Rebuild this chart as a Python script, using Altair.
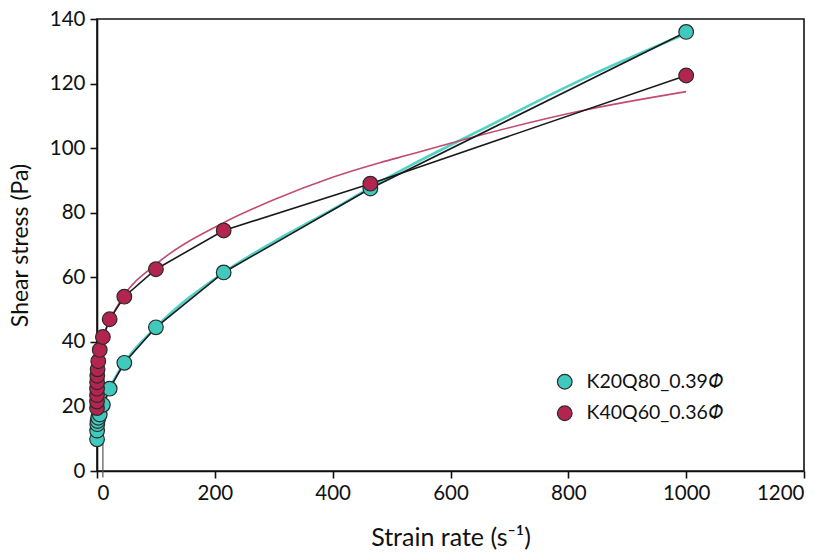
import altair as alt
import pandas as pd

# ---- data ----
series_names = ["K20Q80_0.39𝛷", "K40Q60_0.36𝛷"]

teal_rate = [0.1, 0.215, 0.464, 1, 2.15, 4.64, 10, 21.5, 46.4, 100, 215, 464, 1000]
teal_stress = [9.8, 12.5, 14.5, 15.5, 16.5, 17.5, 20.5, 25.5, 33.5, 44.5, 61.5, 87.5, 136]

crimson_rate = [0.01, 0.0215, 0.0464, 0.1, 0.215, 0.464, 1, 2.15, 4.64, 10, 21.5, 46.4, 100, 215, 464, 1000]
crimson_stress = [19.5, 21.5, 23.5, 25.5, 27.5, 29.5, 31.5, 34, 37.5, 41.5, 47, 54, 62.5, 74.5, 89, 122.5]

teal_fit_rate = [0, 5, 10, 21.5, 46.4, 100, 215, 300, 400, 480, 531, 650, 820, 1000]
teal_fit_stress = [13, 17.5, 20, 25.5, 33.5, 44.5, 61.5, 71, 81, 89.5, 94.5, 105.5, 121, 135.5]

crimson_fit_rate = [5, 10, 21.5, 46.4, 100, 215, 300, 400, 480, 531, 650, 820, 1000]
crimson_fit_stress = [37, 41, 46.5, 54.5, 64, 76.9, 84, 91, 95.5, 98, 104, 111.5, 117.5]

marker_rule_rate = [10]
marker_rule_top = [41]
marker_rule_bottom = [-2]

x_ticks = [0, 200, 400, 600, 800, 1000, 1200]
y_ticks = [0, 20, 40, 60, 80, 100, 120, 140]

# ---- tables ----
pts = pd.concat([
    pd.DataFrame({"rate": teal_rate, "stress": teal_stress, "series": series_names[0], "k": 0}),
    pd.DataFrame({"rate": crimson_rate, "stress": crimson_stress, "series": series_names[1], "k": 1}),
], ignore_index=True)
teal_fit = pd.DataFrame({"rate": teal_fit_rate, "stress": teal_fit_stress})
crimson_fit = pd.DataFrame({"rate": crimson_fit_rate, "stress": crimson_fit_stress})
vrule = pd.DataFrame({"rate": marker_rule_rate, "top": marker_rule_top, "bottom": marker_rule_bottom})

FONT = "Lato"
x_enc = alt.X("rate:Q", scale=alt.Scale(domain=[0, 1200], nice=False, zero=False),
              axis=alt.Axis(values=x_ticks, format="d", title="Strain rate (s⁻¹)",
                            titleFontSize=25, titleBaseline="alphabetic", titleY=74))
y_enc = alt.Y("stress:Q", scale=alt.Scale(domain=[0, 140], nice=False),
              axis=alt.Axis(values=y_ticks, format="d", title="Shear stress (Pa)",
                            titleFontSize=23, titleBaseline="alphabetic", titleX=-70))

teal_fit_line = alt.Chart(teal_fit).mark_line(color="#52d2c6", strokeWidth=2.6, clip=False,
                                              interpolate="monotone").encode(
    x=x_enc, y=y_enc, order="rate:Q")
crimson_fit_line = alt.Chart(crimson_fit).mark_line(color="#c44a6e", strokeWidth=1.6, clip=False,
                                                    interpolate="monotone").encode(
    x="rate:Q", y="stress:Q", order="rate:Q")
black_lines = alt.Chart(pts).mark_line(color="#1a1a1a", strokeWidth=1.6).encode(
    x="rate:Q", y="stress:Q", detail="series:N", order="rate:Q")
rule = alt.Chart(vrule).mark_rule(color="#555555", strokeWidth=1.2, clip=False).encode(
    x="rate:Q", y="top:Q", y2="bottom:Q")
points = alt.Chart(pts).mark_point(filled=True, shape="circle", size=215, opacity=1,
                                   stroke="#2b2b2b", strokeWidth=1.2).encode(
    x="rate:Q", y="stress:Q",
    fill=alt.Fill("series:N",
                  scale=alt.Scale(domain=series_names, range=["#40c9bd", "#b3244f"]),
                  legend=alt.Legend(title=None, orient="none", legendX=458, legendY=353,
                                    symbolType="circle", symbolSize=215,
                                    symbolStrokeColor="#2b2b2b", symbolStrokeWidth=1.2,
                                    symbolOpacity=1,
                                    labelFont=FONT, labelFontSize=19.5, labelColor="#111111",
                                    labelOffset=12, rowPadding=10.5, padding=0)),
    order="k:Q")

chart = alt.layer(teal_fit_line, crimson_fit_line, black_lines, rule, points).properties(
    width=707, height=452,
    autosize=alt.AutoSizeParams(type="none"),
    padding={"left": 89, "top": 11, "right": 28, "bottom": 81},
    background="white",
).configure_view(stroke="#111111", strokeWidth=1.6).configure_axis(
    grid=False, domainColor="#111111", domainWidth=1.6, tickColor="#111111", tickWidth=1.6,
    tickSize=7, labelFont=FONT, labelFontSize=20.5, labelColor="#111111", labelPadding=5,
    titleFont=FONT, titleFontWeight="normal", titleColor="#111111",
)

chart.save("out.html", embed_options={"renderer": "svg", "actions": False})
